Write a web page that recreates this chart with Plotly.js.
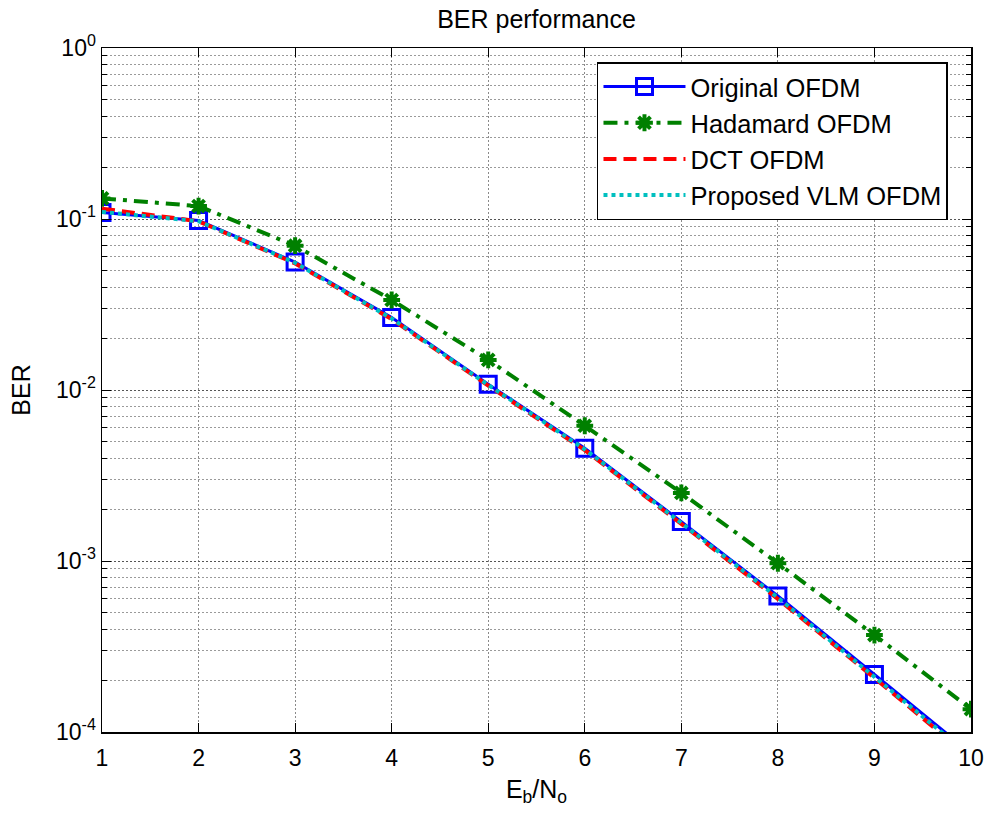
<!DOCTYPE html>
<html>
<head>
<meta charset="utf-8">
<script src="https://cdn.plot.ly/plotly-3.0.1.min.js"></script>
<style>html,body{margin:0;padding:0;background:#fff;}#chart{width:990px;height:814px;}</style>
</head>
<body>
<div id="chart"></div>
<script>
// ---- data ----
var ebno = [1, 2, 3, 4, 5, 6, 7, 8, 9, 10];
var originalOFDM = [0.109, 0.098, 0.056, 0.0265, 0.0108, 0.00456, 0.0017, 0.000624, 0.000217, 0.000075];
var hadamardOFDM = [0.132, 0.119, 0.0698, 0.0336, 0.0150, 0.00618, 0.0025, 0.00097, 0.000369, 0.000136];
var dctOFDM      = [0.115, 0.097, 0.055, 0.0260, 0.0106, 0.00445, 0.00165, 0.000600, 0.000207, 0.000070];
var vlmOFDM      = [0.110, 0.097, 0.0555, 0.0262, 0.0107, 0.00450, 0.00167, 0.000610, 0.000210, 0.000072];
var seriesNames = ['Original OFDM', 'Hadamard OFDM', 'DCT OFDM', 'Proposed VLM OFDM'];
var xTickVals = [1, 2, 3, 4, 5, 6, 7, 8, 9, 10];
var yDecades = [-4, -3, -2, -1, 0];
var yTickText = ['10<sup>-4</sup>', '10<sup>-3</sup>', '10<sup>-2</sup>', '10<sup>-1</sup>', '10<sup>0</sup>'];

var yTickVals = yDecades.map(function (d) { return Math.pow(10, d); });
var yMinorVals = [];
yDecades.slice(0, -1).forEach(function (d) {
  for (var m = 2; m <= 9; m++) yMinorVals.push(m * Math.pow(10, d));
});

var FONT = 'Liberation Sans, Arial, Helvetica, sans-serif';

var traces = [
  {
    x: ebno, y: originalOFDM, name: seriesNames[0], legendgroup: 'a',
    mode: 'lines+markers', type: 'scatter',
    line: {color: '#0000ff', width: 3},
    marker: {symbol: 'square-open', size: 16, color: '#0000ff', line: {color: '#0000ff', width: 3}}
  },
  {
    x: ebno, y: hadamardOFDM, name: seriesNames[1], legendgroup: 'b',
    mode: 'lines+markers', type: 'scatter',
    line: {color: '#008000', width: 4, dash: '14px,7px,4px,7px'},
    marker: {symbol: 'asterisk-open', size: 14, color: '#008000', line: {color: '#008000', width: 4}}
  },
  {
    x: ebno, y: dctOFDM, name: seriesNames[2], legendgroup: 'c',
    mode: 'lines', type: 'scatter',
    line: {color: '#ff0000', width: 4, dash: '13px,7px'}
  },
  {
    x: ebno, y: vlmOFDM, name: seriesNames[3], legendgroup: 'd',
    mode: 'lines', type: 'scatter',
    line: {color: '#00bfbf', width: 4, dash: '4px,4px'}
  }
];

var layout = {
  width: 990, height: 814,
  margin: {l: 102, r: 19, t: 48, b: 82, pad: 0},
  paper_bgcolor: '#ffffff', plot_bgcolor: '#ffffff',
  font: {family: FONT, color: '#000000', size: 23},
  title: {
    text: 'BER performance',
    font: {family: FONT, size: 25, color: '#000000'},
    x: 0.5, xref: 'paper', xanchor: 'center',
    y: 0.976, yref: 'container', yanchor: 'middle'
  },
  showlegend: true,
  legend: {
    x: 0.5696, y: 0.9795, xanchor: 'left', yanchor: 'top',
    bgcolor: '#ffffff', bordercolor: '#000000', borderwidth: 1.5,
    font: {family: FONT, size: 25.5, color: '#000000'},
    itemwidth: 82, traceorder: 'grouped', tracegroupgap: 0
  },
  xaxis: {
    type: 'linear', range: [1, 10], tickmode: 'array', tickvals: xTickVals,
    ticks: 'inside', ticklen: 9, tickwidth: 1, tickcolor: '#000',
    showline: true, linecolor: '#000', linewidth: 1.5, mirror: 'ticks',
    showgrid: true, gridcolor: '#8a8a8a', gridwidth: 1, griddash: '2px,2px',
    zeroline: false, ticklabelstandoff: 5,
    tickfont: {family: FONT, size: 23, color: '#000'},
    title: {text: 'E<sub>b</sub>/N<sub>o</sub>', font: {family: FONT, size: 25, color: '#000'}, standoff: 10}
  },
  yaxis: {
    type: 'log', range: [-4, 0], tickmode: 'array', tickvals: yTickVals, ticktext: yTickText,
    ticks: 'inside', ticklen: 9, tickwidth: 1, tickcolor: '#000',
    showline: true, linecolor: '#000', linewidth: 1.5, mirror: 'ticks',
    showgrid: true, gridcolor: '#555555', gridwidth: 1, griddash: '2px,2px',
    zeroline: false,
    tickfont: {family: FONT, size: 23, color: '#000'},
    minor: {
      tickmode: 'array', tickvals: yMinorVals, ticks: 'inside', ticklen: 5, tickcolor: '#000',
      showgrid: true, gridcolor: '#9a9a9a', gridwidth: 1, griddash: '2px,2px'
    },
    title: {text: 'BER', font: {family: FONT, size: 25, color: '#000'}, standoff: 18}
  }
};

Plotly.newPlot('chart', traces, layout, {displayModeBar: false, staticPlot: true});
</script>
</body>
</html>
